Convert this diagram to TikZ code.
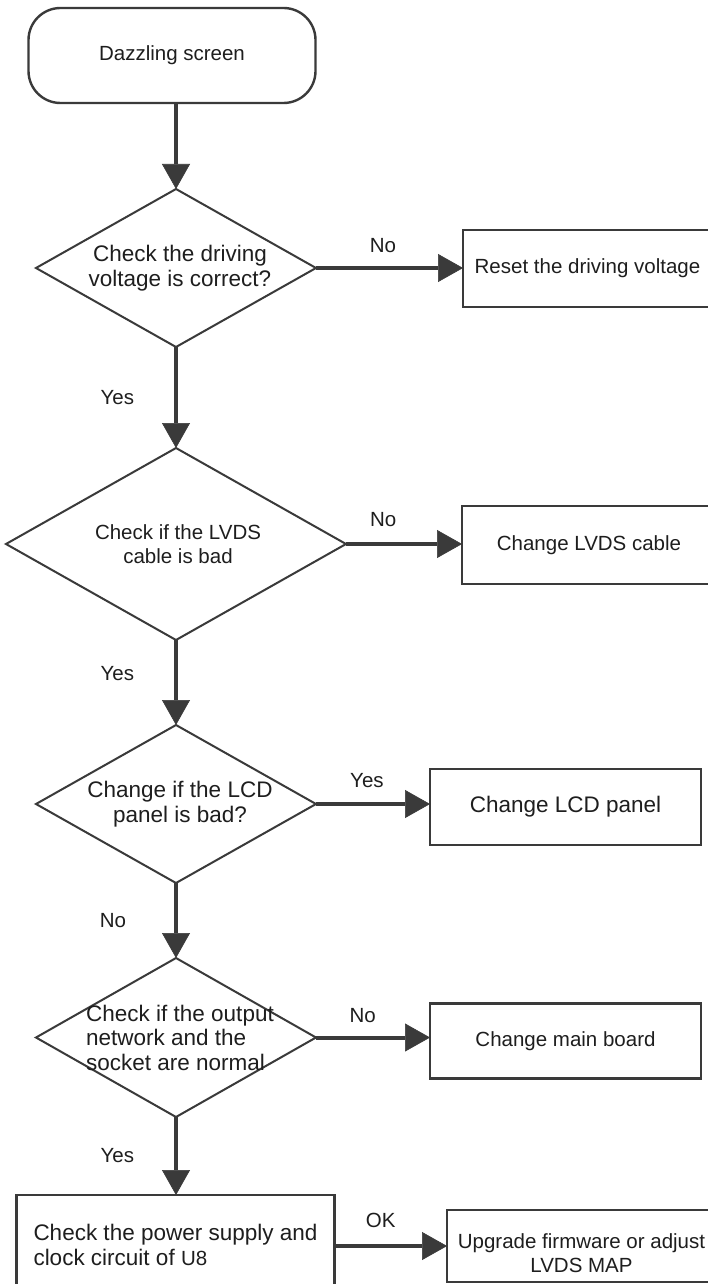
\documentclass[tikz,border=0pt]{standalone}
\usepackage{fontspec}
\setmainfont{Liberation Sans}
\usetikzlibrary{shapes.geometric,arrows.meta}
\definecolor{ink}{HTML}{3A3A3A}
\definecolor{txt}{HTML}{1E1E1E}
\begin{document}
\begin{tikzpicture}[x=1pt,y=-1pt,
  every node/.style={inner sep=0pt,outer sep=0pt,text=txt},
  lt/.style={font=\fontsize{20.5}{24}\selectfont},
  rg/.style={font=\fontsize{22.5}{24.5}\selectfont},
  termbox/.style={draw=ink,line width=2.4pt,rounded corners=32pt},
  procbox/.style={draw=ink,line width=2.8pt,rectangle},
  decision/.style={draw=ink,line width=2pt,diamond},
  arrowline/.style={draw=ink,line width=4pt,-{Triangle[length=25pt,width=28pt,line width=0.6pt]}},
]
\useasboundingbox (0,0) rectangle (707,1284);
\fill[white] (0,0) rectangle (707,1284);

% start
\node[termbox,minimum width=287pt,minimum height=95pt,lt] (start) at (172,55.5) {Dazzling screen};

% decisions
\node[decision,minimum width=280pt,minimum height=158pt,
  label={[rg,align=center,xshift=4pt]center:Check the driving\\voltage is correct?}] (d1) at (176,268) {};
\node[decision,minimum width=340pt,minimum height=192pt,
  label={[lt,align=center,xshift=2pt]center:Check if the LVDS\\cable is bad}] (d2) at (176,544) {};
\node[decision,minimum width=280pt,minimum height=158pt,
  label={[rg,align=center,xshift=4pt]center:Change if the LCD\\panel is bad?}] (d3) at (176,804) {};
\node[decision,minimum width=280pt,minimum height=159pt,
  label={[rg,align=left,xshift=4pt]center:Check if the output\\network and the\\socket are normal}] (d4) at (176,1037.5) {};

% process boxes
\node[procbox,lt,minimum width=249pt,minimum height=77pt] (r1) at (587.5,268.5) {Reset the driving voltage};
\node[procbox,lt,minimum width=254pt,minimum height=78pt] (r2) at (589,545) {Change LVDS cable};
\node[procbox,rg,minimum width=271pt,minimum height=76pt] (r3) at (565.5,807) {Change LCD panel};
\node[procbox,lt,minimum width=271pt,minimum height=75pt] (r4) at (565.5,1041) {Change main board};
\node[procbox,minimum width=318pt,minimum height=105pt,
  label={[rg,align=left,anchor=west,xshift=17pt,yshift=2.5pt]west:Check the power supply and\\clock circuit of {\fontsize{20.5}{24}\selectfont U8}}] (b5) at (175.5,1247.5) {};
\node[procbox,minimum width=269pt,minimum height=72pt,
  label={[lt,align=center,yshift=-7pt]center:Upgrade firmware or adjust\\LVDS MAP}] (r5) at (581.5,1246) {};

% vertical flow
\draw[arrowline] (start.south -| d1.north) -- (d1.north);
\draw[arrowline] (d1.south) -- node[lt,midway,left=42pt] (y1) {Yes} (d2.north);
\draw[arrowline] (d2.south) -- node[lt,pos=0.4,left=42pt] (y2) {Yes} (d3.north);
\draw[arrowline] (d3.south) -- node[lt,midway,left=50pt] (n3) {No} (d4.north);
\draw[arrowline] (d4.south) -- node[lt,midway,left=42pt] (y4) {Yes} (d4.south |- b5.north);

% horizontal flow
\draw[arrowline] (d1.east) -- node[lt,pos=0.456,above=15pt] (n1) {No} (d1.east -| r1.west);
\draw[arrowline] (d2.east) -- node[lt,pos=0.32,above=17pt] (n2) {No} (d2.east -| r2.west);
\draw[arrowline] (d3.east) -- node[lt,pos=0.447,above=16.5pt] (y3) {Yes} (d3.east -| r3.west);
\draw[arrowline] (d4.east) -- node[lt,pos=0.41,above=14.5pt] (n4) {No} (d4.east -| r4.west);
\draw[arrowline] (b5.east |- r5.west) -- node[lt,pos=0.41,above=18.5pt] (ok) {OK} (r5.west);
\end{tikzpicture}
\end{document}
